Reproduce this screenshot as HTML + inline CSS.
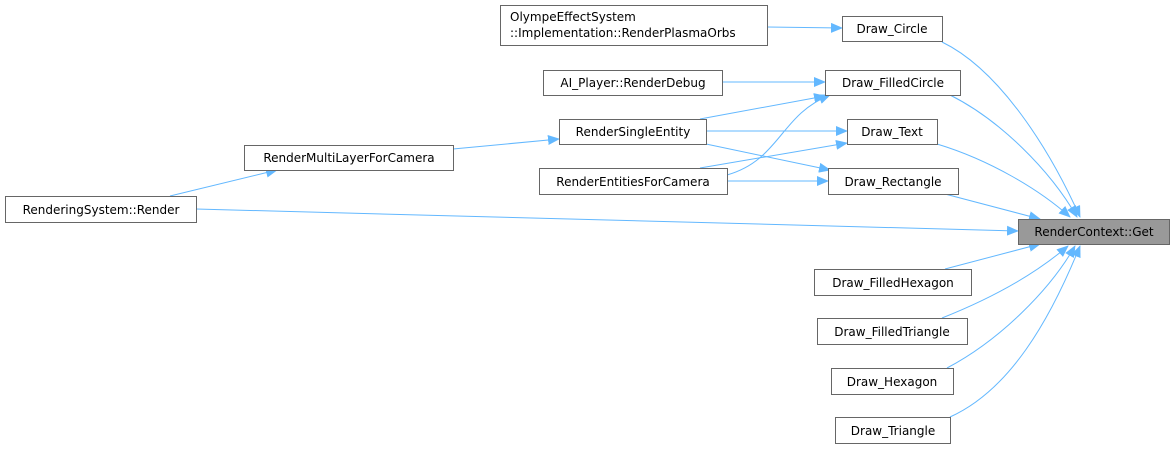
<!DOCTYPE html>
<html><head><meta charset="utf-8"><style>
body{margin:0;background:#fff;width:1175px;height:449px;overflow:hidden}
text{font-family:"DejaVu Sans","Liberation Sans",sans-serif;font-size:12px;fill:#000}
.b{fill:#fff;stroke:#666;stroke-width:1}
.e{fill:none;stroke:#63b8ff;stroke-width:1}
</style></head><body>
<svg width="1175" height="449" xmlns="http://www.w3.org/2000/svg">
<defs><marker id="a" markerWidth="12" markerHeight="10" refX="11" refY="5" orient="auto" markerUnits="userSpaceOnUse"><path d="M0,0 L12,5 L0,10 z" fill="#63b8ff"/></marker></defs>
<g class="e" marker-end="url(#a)">
<path d="M942,42 C1000,70 1050,150 1080,217"/>
<path d="M950,95 C1000,120 1050,170 1077,217"/>
<path d="M937,144 C990,160 1040,190 1070,217"/>
<path d="M945,194 L1040,219"/>
<path d="M196,209 L1018,231"/>
<path d="M945,269 L1040,244"/>
<path d="M942,318 C1000,295 1040,270 1068,246"/>
<path d="M947,368 C1000,340 1050,290 1075,246"/>
<path d="M950,417 C1010,390 1050,320 1080,246"/>
<path d="M170,196 L277,170"/>
<path d="M453,149 L559,139"/>
<path d="M700,119 L825,96"/>
<path d="M706,131 L847,131"/>
<path d="M706,144 L830,170"/>
<path d="M700,168 L847,143"/>
<path d="M727,175 C780,160 780,115 830,95"/>
<path d="M727,181 L828,181"/>
<path d="M722,82 L825,82"/>
<path d="M767,27 L842,28"/>
</g>
<rect class="b" x="500.5" y="5.5" width="267" height="40"/>
<text x="510" y="21">OlympeEffectSystem</text><text x="510" y="37">::Implementation::RenderPlasmaOrbs</text>
<rect class="b" x="842.5" y="16.5" width="100" height="25"/><text x="892" y="33" text-anchor="middle">Draw_Circle</text>
<rect class="b" x="543.5" y="70.5" width="179" height="25"/><text x="633" y="87" text-anchor="middle">AI_Player::RenderDebug</text>
<rect class="b" x="825.5" y="70.5" width="135" height="25"/><text x="893" y="87" text-anchor="middle">Draw_FilledCircle</text>
<rect class="b" x="559.5" y="119.5" width="147" height="25"/><text x="633" y="136" text-anchor="middle">RenderSingleEntity</text>
<rect class="b" x="847.5" y="119.5" width="90" height="25"/><text x="892" y="136" text-anchor="middle">Draw_Text</text>
<rect class="b" x="539.5" y="168.5" width="188" height="26"/><text x="633" y="186" text-anchor="middle">RenderEntitiesForCamera</text>
<rect class="b" x="828.5" y="168.5" width="130" height="26"/><text x="893" y="186" text-anchor="middle">Draw_Rectangle</text>
<rect x="1018.5" y="219.5" width="151" height="25" fill="#999" stroke="#666"/><text x="1094" y="236" text-anchor="middle">RenderContext::Get</text>
<rect class="b" x="814.5" y="269.5" width="157" height="26"/><text x="893" y="287" text-anchor="middle">Draw_FilledHexagon</text>
<rect class="b" x="817.5" y="318.5" width="150" height="26"/><text x="892" y="336" text-anchor="middle">Draw_FilledTriangle</text>
<rect class="b" x="831.5" y="368.5" width="122" height="26"/><text x="892" y="386" text-anchor="middle">Draw_Hexagon</text>
<rect class="b" x="835.5" y="417.5" width="115" height="26"/><text x="893" y="435" text-anchor="middle">Draw_Triangle</text>
<rect class="b" x="244.5" y="145.5" width="209" height="25"/><text x="349" y="162" text-anchor="middle">RenderMultiLayerForCamera</text>
<rect class="b" x="5.5" y="196.5" width="191" height="26"/><text x="101" y="214" text-anchor="middle">RenderingSystem::Render</text>
</svg>
</body></html>
